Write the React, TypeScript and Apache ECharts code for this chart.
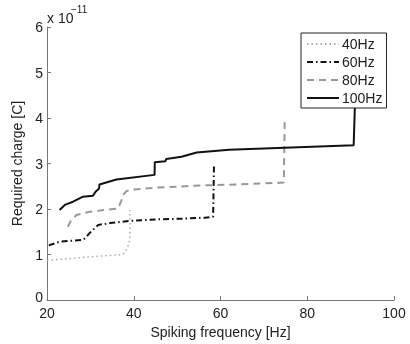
import React, { useEffect, useRef } from "react";
import * as echarts from "echarts";

const seriesNames = ["40Hz", "60Hz", "80Hz", "100Hz"];
const xTicks = { min: 20, max: 100, interval: 20 };
const yTicks = { min: 0, max: 6, interval: 1 };
const exponentLabel = "x 10";
const exponentSup = "\u221211";
const xName = "Spiking frequency [Hz]";
const yName = "Required charge [C]";

// charge values in units of 1e-11 C
const hz40: [number, number][] = [
  [20, 0.87], [24, 0.9], [30, 0.95], [37.5, 1.0], [38.2, 1.08], [38.7, 1.19], [39.1, 1.35], [39.1, 1.98],
];
const hz60: [number, number][] = [
  [20.4, 1.2], [22.9, 1.28], [25, 1.3], [28.3, 1.32], [29.1, 1.39], [29.8, 1.47], [30.6, 1.54], [31.8, 1.65],
  [34.5, 1.69], [39.1, 1.74], [45, 1.77], [52, 1.79], [56.4, 1.81], [58.3, 1.83], [58.5, 2.99],
];
const hz80: [number, number][] = [
  [24.8, 1.61], [25.6, 1.76], [26.8, 1.87], [29.8, 1.94], [36.4, 2.01], [37.2, 2.2], [37.5, 2.31], [38.3, 2.39],
  [39.1, 2.42], [45, 2.47], [56.4, 2.52], [64.4, 2.54], [74.6, 2.58], [74.8, 3.96],
];
const hz100: [number, number][] = [
  [22.9, 1.98], [24.1, 2.09], [26, 2.16], [28.3, 2.27], [30.6, 2.29], [31.2, 2.38], [32.0, 2.45], [32.1, 2.54],
  [36, 2.65], [44.8, 2.75], [44.85, 3.03], [47.3, 3.05], [47.5, 3.1], [51, 3.15], [54.5, 3.24], [62, 3.3],
  [90.7, 3.4], [91, 4.3],
];

const FONT = "'Liberation Sans', Arial, Helvetica, sans-serif";

export default function App() {
  const ref = useRef<HTMLDivElement>(null);
  useEffect(() => {
    if (!ref.current) return;
    const chart = echarts.init(ref.current, undefined, { renderer: "svg" });
    const mk = (name: string, data: [number, number][], color: string, width: number, type: any) => ({
      name,
      type: "line",
      data,
      showSymbol: false,
      symbol: "none",
      lineStyle: { color, width, type },
      itemStyle: { color },
      z: 2,
    });
    chart.setOption({
      animation: false,
      textStyle: { fontFamily: FONT },
      grid: { left: 47, right: 16, top: 27, bottom: 44, containLabel: false, outerBoundsMode: "none" },
      xAxis: {
        type: "value",
        min: xTicks.min,
        max: xTicks.max,
        interval: xTicks.interval,
        name: xName,
        nameLocation: "middle",
        nameGap: 21,
        nameTextStyle: { fontSize: 14, color: "#222", fontFamily: FONT },
        axisLine: { show: true, lineStyle: { color: "#777", width: 1 } },
        axisTick: { show: true, inside: true, length: 4, lineStyle: { color: "#777" } },
        axisLabel: { fontSize: 14, color: "#222", margin: 7, lineHeight: 12, fontFamily: FONT },
        splitLine: { show: false },
      },
      yAxis: {
        type: "value",
        min: yTicks.min,
        max: yTicks.max,
        interval: yTicks.interval,
        name: yName,
        nameLocation: "middle",
        nameRotate: 90,
        nameGap: 18,
        nameTextStyle: { fontSize: 14, color: "#222", fontFamily: FONT },
        axisLine: { show: true, lineStyle: { color: "#777", width: 1 } },
        axisTick: { show: true, inside: true, length: 4, lineStyle: { color: "#777" } },
        axisLabel: {
          fontSize: 14,
          color: "#222",
          margin: 4,
          lineHeight: 12,
          fontFamily: FONT,
          formatter: (v: number) => (v === 0 ? "{z|0}" : String(v)),
          rich: { z: { fontSize: 14, color: "#222", fontFamily: FONT, lineHeight: 12, padding: [0, 0, 6, 0] } },
        },
        splitLine: { show: false },
      },
      legend: {
        orient: "vertical",
        left: 301,
        top: 33,
        padding: [4, 4, 3, 5],
        itemWidth: 32,
        itemHeight: 14,
        itemGap: 4,
        borderColor: "#222",
        borderWidth: 1,
        backgroundColor: "#fff",
        itemStyle: { opacity: 0 },
        textStyle: { fontSize: 14, color: "#222", fontFamily: FONT, padding: [0, 0, 0, -2], lineHeight: 14 },
        data: seriesNames,
        z: 10,
      },
      graphic: [
        { type: "text", left: 47, top: 11, style: { text: exponentLabel, fontSize: 14, fill: "#222", fontFamily: FONT } },
        { type: "text", left: 71, top: 4, style: { text: exponentSup, fontSize: 10, fill: "#222", fontFamily: FONT } },
      ],
      series: [
        mk(seriesNames[0], hz40, "#aaaaaa", 1.5, [1.5, 3]),
        mk(seriesNames[1], hz60, "#111111", 2, [6, 3, 1.5, 3]),
        mk(seriesNames[2], hz80, "#999999", 2, [7, 5]),
        mk(seriesNames[3], hz100, "#111111", 2, "solid"),
      ],
    });
    return () => chart.dispose();
  }, []);
  return <div ref={ref} style={{ position: "fixed", left: 0, top: 0, width: 410, height: 344 }} />;
}
